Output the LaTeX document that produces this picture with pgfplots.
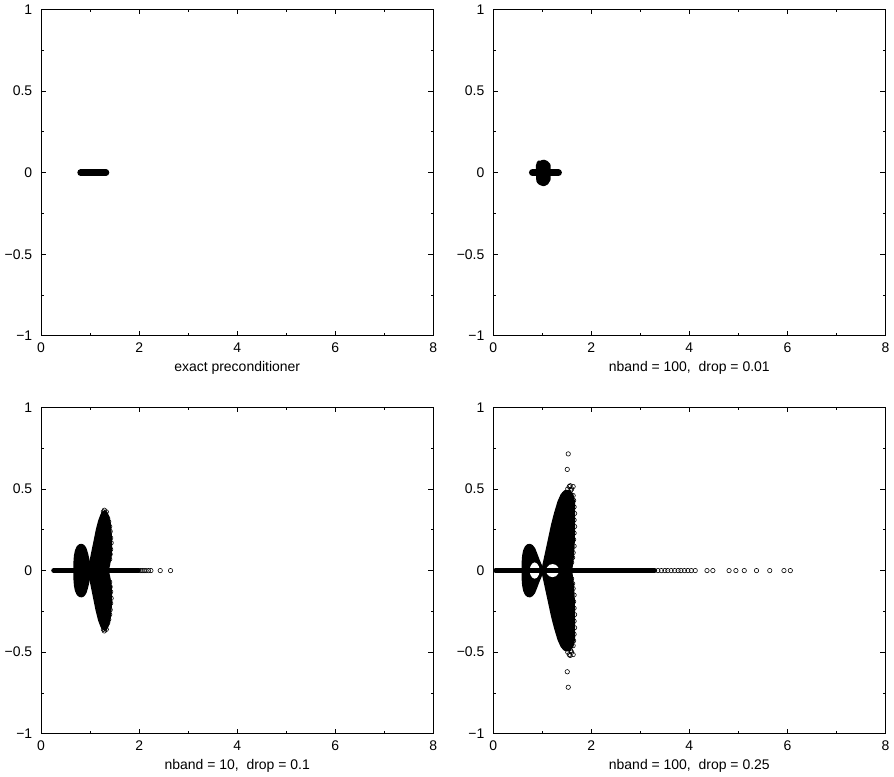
\documentclass[border=0pt]{standalone}
\usepackage{fontspec}
\setmainfont{Liberation Sans}
\usepackage{pgfplots}
\pgfplotsset{compat=1.18}

\pgfplotsset{
  eig/.style={
    scale only axis, width=393pt, height=327pt,
    xmin=0, xmax=8, ymin=-1, ymax=1,
    xtick={0,2,4,6,8}, xticklabels={0,2,4,6,8},
    ytick={-1,-0.5,0,0.5,1}, yticklabels={−1,−0.5,0,0.5,1},
    minor x tick num=1, minor y tick num=1,
    tick align=inside, major tick length=5pt, minor tick length=2.5pt,
    every tick/.append style={black, line width=0.8pt},
    axis line style={line width=1pt},
    every tick label/.append style={font=\fontsize{14}{17}\selectfont},
    yticklabel style={xshift=-4pt},
    xticklabel style={yshift=-2pt},
    every axis label/.append style={font=\fontsize{14}{17}\selectfont},
    xlabel style={yshift=1pt},
  },
  blob/.style={fill=black, draw=black, line width=5pt, line join=round, line cap=round},
  hole/.style={fill=white, draw=none},
  zline/.style={black, line width=5.2pt, line cap=round},
  pts/.style={only marks, mark=o, mark size=2.2pt, mark options={line width=0.6pt, black}},
}

\begin{document}
\fontsize{14}{17}\selectfont
\begin{tikzpicture}[font=\fontsize{14}{17}\selectfont]

% exact preconditioner
\begin{axis}[eig, at={(0pt,0pt)}, anchor=north west,
  xlabel={exact preconditioner}]
\addplot[zline, line width=6.5pt] coordinates {(0.805,0) (1.325,0)};
\end{axis}

% nband = 100, drop = 0.01
\begin{axis}[eig, at={(453pt,0pt)}, anchor=north west,
  xlabel={nband = 100,~~drop = 0.01}]
\addplot[zline, line width=7pt] coordinates {(0.80,0) (1.33,0)};
\addplot[blob] coordinates {
  (0.92,0.04) (0.94,0.06) (0.98,0.055) (1.02,0.065) (1.08,0.058) (1.12,0.045)
  (1.12,-0.04) (1.08,-0.06) (1.03,-0.068) (0.97,-0.062) (0.93,-0.05) (0.92,0) (0.92,0.04)};
\end{axis}

% nband = 10, drop = 0.1
\begin{axis}[eig, at={(0pt,-398.7pt)}, anchor=north west,
  xlabel={nband = 10,~~drop = 0.1}]
\addplot[blob] coordinates {
  (0.99,0) (0.97,0.025) (0.94,0.06) (0.91,0.10) (0.88,0.13) (0.85,0.145) (0.81,0.15)
  (0.77,0.14) (0.74,0.12) (0.72,0.09) (0.71,0.05) (0.71,0) (0.71,-0.05) (0.72,-0.09)
  (0.74,-0.12) (0.77,-0.14) (0.81,-0.15) (0.85,-0.145) (0.88,-0.13) (0.91,-0.10)
  (0.94,-0.06) (0.97,-0.025) (0.99,0)};
\addplot[blob] coordinates {
  (1.02,0) (1.04,0.06) (1.08,0.12) (1.12,0.18) (1.16,0.24) (1.21,0.30) (1.26,0.34)
  (1.30,0.355) (1.34,0.33) (1.37,0.29) (1.39,0.23) (1.40,0.16) (1.39,0.09) (1.36,0.04)
  (1.33,0) (1.36,-0.04) (1.39,-0.09) (1.40,-0.16) (1.39,-0.23) (1.37,-0.29) (1.34,-0.33)
  (1.30,-0.355) (1.26,-0.34) (1.21,-0.30) (1.16,-0.24) (1.12,-0.18) (1.08,-0.12)
  (1.04,-0.06) (1.02,0)};
\addplot[zline] coordinates {(0.26,0) (1.98,0)};
\addplot[pts] coordinates {
  (2.02,0) (2.06,0) (2.10,0) (2.14,0) (2.19,0) (2.24,0) (2.43,0) (2.64,0)
  (1.27,0.36) (1.29,0.37) (1.33,0.36) (1.31,0.345) (1.36,0.32) (1.38,0.30) (1.40,0.27)
  (1.41,0.24) (1.42,0.20) (1.43,0.17) (1.42,0.13) (1.41,0.10) (1.40,0.07)
  (1.27,-0.36) (1.29,-0.37) (1.33,-0.36) (1.31,-0.345) (1.36,-0.32) (1.38,-0.30) (1.40,-0.27)
  (1.41,-0.24) (1.42,-0.20) (1.43,-0.17) (1.42,-0.13) (1.41,-0.10) (1.40,-0.07)};
\end{axis}

% nband = 100, drop = 0.25
\begin{axis}[eig, at={(453pt,-398.7pt)}, anchor=north west,
  xlabel={nband = 100,~~drop = 0.25}]
\addplot[blob] coordinates {
  (0.99,0) (0.95,0.025) (0.90,0.06) (0.85,0.10) (0.81,0.13) (0.77,0.145) (0.73,0.15)
  (0.69,0.14) (0.66,0.12) (0.64,0.09) (0.63,0.05) (0.63,0) (0.63,-0.05) (0.64,-0.09)
  (0.66,-0.12) (0.69,-0.14) (0.73,-0.15) (0.77,-0.145) (0.81,-0.13) (0.85,-0.10)
  (0.90,-0.06) (0.95,-0.025) (0.99,0)};
\addplot[blob] coordinates {
  (1.03,0) (1.08,0.07) (1.13,0.14) (1.18,0.21) (1.23,0.28) (1.29,0.35) (1.36,0.42)
  (1.42,0.46) (1.48,0.48) (1.54,0.48) (1.59,0.46) (1.62,0.42) (1.62,0.35) (1.62,0.25)
  (1.61,0.15) (1.59,0.07) (1.56,0) (1.59,-0.07) (1.61,-0.15) (1.62,-0.25) (1.62,-0.35)
  (1.62,-0.42) (1.59,-0.46) (1.54,-0.48) (1.48,-0.48) (1.42,-0.46) (1.36,-0.42)
  (1.29,-0.35) (1.23,-0.28) (1.18,-0.21) (1.13,-0.14) (1.08,-0.07) (1.03,0)};
\addplot[hole] coordinates {
  (0.945,0) (0.932,0.025) (0.895,0.043) (0.845,0.05) (0.795,0.043) (0.758,0.025)
  (0.745,0) (0.758,-0.025) (0.795,-0.043) (0.845,-0.05) (0.895,-0.043) (0.932,-0.025)
  (0.945,0)};
\addplot[hole] coordinates {
  (1.34,0) (1.323,0.02) (1.275,0.035) (1.21,0.04) (1.145,0.035) (1.097,0.02)
  (1.08,0) (1.097,-0.02) (1.145,-0.035) (1.21,-0.04) (1.275,-0.035) (1.323,-0.02)
  (1.34,0)};
\addplot[zline] coordinates {(0.05,0) (3.29,0)};
\addplot[pts] coordinates {
  (3.36,0) (3.43,0) (3.50,0) (3.56,0) (3.63,0) (3.70,0) (3.77,0) (3.83,0) (3.90,0)
  (3.97,0) (4.04,0) (4.12,0) (4.36,0) (4.48,0) (4.81,0) (4.95,0) (5.12,0) (5.37,0)
  (5.64,0) (5.93,0) (6.06,0)
  (1.51,0.62) (1.53,0.715) (1.40,0.44) (1.45,0.47) (1.52,0.50) (1.55,0.515) (1.57,0.52)
  (1.60,0.50) (1.63,0.515) (1.58,0.49) (1.63,0.46) (1.64,0.43) (1.65,0.39) (1.66,0.35)
  (1.65,0.31) (1.66,0.27) (1.65,0.23) (1.64,0.19) (1.65,0.15) (1.63,0.11) (1.62,0.08)
  (1.60,0.05)
  (1.51,-0.62) (1.53,-0.715) (1.40,-0.44) (1.45,-0.47) (1.52,-0.50) (1.55,-0.515) (1.57,-0.52)
  (1.60,-0.50) (1.63,-0.515) (1.58,-0.49) (1.63,-0.46) (1.64,-0.43) (1.65,-0.39) (1.66,-0.35)
  (1.65,-0.31) (1.66,-0.27) (1.65,-0.23) (1.64,-0.19) (1.65,-0.15) (1.63,-0.11) (1.62,-0.08)
  (1.60,-0.05)};
\end{axis}

\end{tikzpicture}
\end{document}
